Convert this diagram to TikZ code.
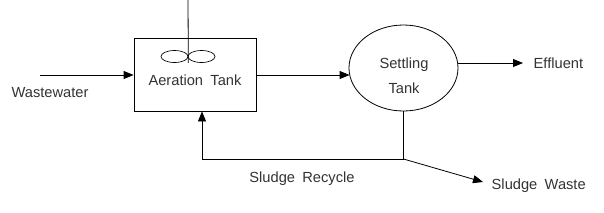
\documentclass[tikz,border=0pt]{standalone}
\usepackage{fontspec}
\setmainfont{Liberation Sans}[WordSpace=1.8]
\usepackage{tikz}
\usetikzlibrary{positioning, arrows.meta, calc, shapes.geometric}
\definecolor{ink}{HTML}{333333}

\begin{document}
\begin{tikzpicture}[x=0.75pt, y=-0.75pt,
        every node/.style={font=\fontsize{11pt}{13pt}\selectfont, text=ink},
        tank/.style={rectangle, draw, line width=0.6pt,
          minimum width=91.5pt, minimum height=54.75pt, inner sep=0pt},
        basin/.style={ellipse, draw, line width=0.6pt,
          minimum width=81.75pt, minimum height=64.5pt, inner sep=0pt},
        blade/.style={ellipse, draw, line width=0.5pt, inner sep=0pt,
          minimum width=20.25pt, minimum height=9pt},
        arr/.style={-{Triangle[length=7.5pt, width=6pt]}, line width=0.6pt},
        pipe/.style={line width=0.6pt}]

      \useasboundingbox (0,0) rectangle (604,212);

      % tanks
      \node[tank] (aer) at (195,74.5) {};
      \node (aerlbl) at (195,80) {Aeration Tank};
      \node[basin] (settle) at (403.5,68) {};
      \node[align=center, font=\fontsize{11pt}{19pt}\selectfont]
        (settlelbl) at (404,75.5) {Settling\\Tank};

      % mixer
      \coordinate (shaft) at (188,0);
      \node[blade] (bladeL) at (174.5,56.5) {};
      \node[blade] (bladeR) at (201.5,56.5) {};
      \draw[pipe] (shaft) -- (bladeL.east |- bladeL.south);

      % streams
      \coordinate (win) at (40,75);
      \coordinate (eff) at (523,63);
      \coordinate (split) at (settle.south |- 0,159);
      \coordinate (ret) at (202,159);
      \coordinate (waste) at (483,182);

      \draw[arr] (win) -- (win -| aer.west);
      \draw[arr] (aer.east |- win) -- ($(settle.west |- win)+(1,0)$);
      \draw[arr] (eff -| settle.east) -- (eff);
      \draw[arr] (settle.south) -- (split) -- (ret) -- (ret |- aer.south);
      \draw[arr] (split) -- (waste);

      % labels
      \node (wwlbl) at (50,93) {Wastewater};
      \node[anchor=west] (efflbl) at (529,63) {Effluent};
      \node (reclbl) at (302,179) {Sludge Recycle};
      \node[anchor=west] (wastelbl) at (487,186) {Sludge Waste};
    \end{tikzpicture}
\end{document}
